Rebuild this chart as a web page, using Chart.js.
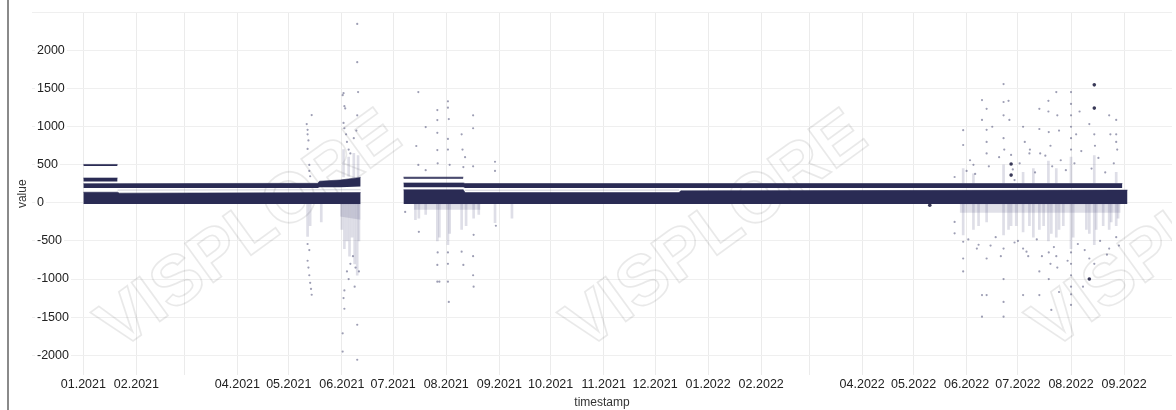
<!DOCTYPE html>
<html>
<head>
<meta charset="utf-8">
<script src="https://cdn.jsdelivr.net/npm/chart.js@4.4.0/dist/chart.umd.min.js"></script>
<style>
  html, body { margin: 0; padding: 0; background: #fff; }
  #wrap { position: relative; width: 1176px; height: 410px; }
</style>
</head>
<body>
<div id="wrap"><canvas id="valueChart"></canvas></div>
<script>
// x values are days counted from 01.01.2021
var monthStarts = [0, 31, 59, 90, 120, 151, 181, 212, 243, 273, 304, 334, 365, 396, 424, 455, 485, 516, 546, 577, 608];
var monthLabels = ['01.2021', '02.2021', '', '04.2021', '05.2021', '06.2021', '07.2021', '08.2021', '09.2021', '10.2021',
    '11.2021', '12.2021', '01.2022', '02.2022', '', '04.2022', '05.2022', '06.2022', '07.2022', '08.2022', '09.2022'];
var valueTicks = [-2000, -1500, -1000, -500, 0, 500, 1000, 1500, 2000, 2500];
var valueLabels = ['-2000', '-1500', '-1000', '-500', '0', '500', '1000', '1500', '2000', ''];

// dense band around zero (two recording periods)
var baseDays1 = [0, 20, 21, 162];
var baseLow1 = [-15, -15, -15, -15];
var baseHigh1 = [140, 140, 128, 135];
var baseDays2 = [187, 222, 223, 348, 349, 610];
var baseLow2 = [-15, -15, -15, -15, -15, -15];
var baseHigh2 = [172, 172, 135, 135, 158, 168];

// second level at ~200-250
var levelDays1 = [0, 137, 138, 150, 162];
var levelLow1 = [197, 197, 205, 205, 215];
var levelHigh1 = [252, 257, 285, 300, 335];
var levelDays2 = [187, 222, 223, 607];
var levelLow2 = [205, 205, 196, 196];
var levelHigh2 = [262, 262, 254, 254];

// short levels at the start of each period
var jan500Days = [0, 20];
var jan500Low = [483, 483];
var jan500High = [505, 505];
var jan300Days = [0, 20];
var jan300Low = [280, 280];
var jan300High = [327, 327];
var jul330Days = [187, 222];
var jul330Low = [318, 318];
var jul330High = [338, 338];

// sparse trace between the two levels
var traceDays1 = [20, 162];
var traceValues1 = [168, 172];
var traceDays2 = [223, 348];
var traceValues2 = [166, 168];

// light haze of values just under zero
var hazeDays1 = [150, 162];
var hazeLow1 = [-180, -220];
var hazeDays2 = [193, 232];
var hazeLow2 = [-90, -90];
var hazeDays3 = [512, 606];
var hazeLow3 = [-130, -130];

// vertical streaks of scattered values
var streakDays = [131, 132.5, 139, 151, 152.5, 154, 155.5, 157, 158.5, 160, 161,
    152, 155, 158, 160.5,
    194, 196, 200, 206.8, 208, 213, 214, 221, 223.6, 228, 231, 240.5, 250.4,
    514, 520, 523, 527.7, 537.6, 540.5, 542, 545, 549, 552.7, 555, 558.5, 561, 563.8, 565.5, 568.4, 570,
    572.5, 577, 578.3, 586, 587.7, 590.6, 591.7, 595.8, 599.3, 600.5, 603.4, 604.5,
    514, 520, 537.6, 549, 555, 563.8, 568.4, 577, 590.6, 603.4];
var streakLow = [-440, -300, -250, -350, -600, -500, -700, -450, -800, -950, -500,
    340, 350, 330, 340,
    -220, -200, -150, -500, -450, -550, -400, -350, -300, -200, -150, -260, -200,
    -420, -350, -300, -250, -420, -350, -300, -300, -380, -300, -450, -350, -300, -500, -400, -450, -350,
    -300, -600, -450, -350, -400, -550, -350, -300, -350, -250, -300, -200,
    255, 255, 255, 255, 255, 255, 255, 255, 255, 255];
var streakHigh = [-20, -20, -20, -20, -20, -20, -20, -20, -20, -20, -20,
    700, 600, 650, 620,
    -20, -20, -20, -20, -20, -20, -20, -20, -20, -20, -20, -20, -20,
    -20, -20, -20, -20, -20, -20, -20, -20, -20, -20, -20, -20, -20, -20, -20, -20, -20,
    -20, -20, -20, -20, -20, -20, -20, -20, -20, -20, -20, -20,
    450, 380, 500, 400, 450, 550, 450, 600, 620, 400];

// single outlying readings
var outlierDays = [130.5, 131, 131, 131.5, 131, 133.4, 132, 132, 132.5, 131, 131.5, 132, 132.5, 133, 133.4, 131, 132,
    151.5, 152, 152.5, 153, 152, 152.5, 153.5, 154, 155, 156, 152, 152.5, 152.5, 151.5, 151.5, 154, 155, 156, 157.5,
    160, 160, 160.5, 160, 159.5, 158, 160, 160, 161, 159, 158.5,
    188, 195.7, 194.5, 195.7, 196, 200, 206.8, 206.8, 206.8, 206.8, 207, 206.8, 206.8, 208, 207, 213, 213, 213.5, 213,
    213, 214, 213, 213, 213.5, 213, 221, 221.5, 223, 222, 221, 222, 227.7, 227.7, 227.7, 228, 227.7, 227.7, 228,
    240.5, 240.5, 241, 200,
    509, 509, 509, 514, 514, 514, 514, 514, 520, 523, 525, 525, 525, 525, 527.7, 527.7, 527.7, 527.7, 527.7, 527.7,
    531, 533, 537.6, 537.6, 537.6, 537.6, 538, 537.6, 537.6, 537.6, 537.6, 540.5, 541, 542, 544, 546,
    549, 550, 552.7, 549, 552, 549, 558.5, 558.5, 559, 560, 558.5, 558.5, 563.8, 563.8, 564, 565, 564, 565, 564, 565.5,
    568.4, 569, 570, 568.4, 569, 570, 577, 577, 577, 577, 577, 577, 577, 577, 577, 577, 577, 577, 580, 582, 584,
    587.7, 587.7, 590.6, 591, 590.6, 599.3, 600, 599.3, 603.4, 603.4, 603.4, 604, 603.4,
    516, 518, 521, 529, 535, 543, 547, 553, 556, 562, 566, 571, 574, 579, 583, 589, 593, 597, 602,
    517, 522, 530, 536, 544, 551, 557, 567, 575, 581, 585, 594, 598, 605];
var outlierValues = [1035, 960, 900, 820, 708, 1153, 498, 420, 350, -760, -850, -950, -1050, -1130, -1206, -540, -620,
    1415, 1440, 1270, 1240, 1050, 980, 900, 800, 700, 650, -1250, -1390, -1150, -1713, -1953, -900, -1000, -800, -700,
    2350, 1848, 1455, 1150, 950, 850, -1600, -2060, -900, -850, -1100,
    -118, 1455, 747, 498, -380, 996, 1219, 1088, 920, 694, 520, -815, -1035, -1035, -650, 1334, 1250, 1100, 840,
    700, 500, -800, -1035, -1300, -650, 900, 700, 600, 470, -640, -815, 1150, 980, 480, -420, -700, -950, -1100,
    540, 420, -300, 430,
    340, -250, -400, 955, 760, -510, -730, -900, 500, -550, 1350, 1090, -1210, -1494, 1235, 960, 800, 650, -730, -1210,
    1000, -450, 1560, 1325, 1150, 850, 700, -600, -1000, -1300, -1494, 1340, 1090, 630, 300, -500,
    1000, 800, 650, -600, -700, -1210, 1235, 970, 650, -700, -900, -1210, 1340, 1200, 930, 750, -650, -800, -1000, -1405,
    1455, 1150, 950, -700, -850, -1170, 1455, 1300, 1150, 1000, 850, 700, -650, -800, -950, -1100, -1200, -1340, 900, 1200, -1100,
    1035, -730, 900, 750, -800, 1150, 900, -600, 1090, 900, 800, 700, -450,
    420, 560, 380, 480, 600, 440, 520, 700, 400, 620, 480, 560, 430, 520, 680, 450, 590, 400, 520,
    -480, -600, -560, -700, -520, -640, -480, -580, -760, -540, -620, -500, -680, -560];

// heavier single readings
var strongDays = [494.5, 542, 542, 587.7, 590.6, 590.6];
var strongValues = [-30, 510, 365, -1000, 1550, 1245];

var navy = '#2a2b54';

function toPoints(days, values) {
    return days.map(function (d, i) { return { x: d, y: values[i] }; });
}

function bandDatasets(days, low, high, color) {
    return [{
        type: 'line',
        data: toPoints(days, low),
        borderWidth: 0,
        pointRadius: 0,
        fill: false,
        order: 5
    }, {
        type: 'line',
        data: toPoints(days, high),
        borderColor: color,
        borderWidth: 0.6,
        backgroundColor: color,
        pointRadius: 0,
        fill: '-1',
        order: 5
    }];
}

function zeroLine(days) {
    return days.map(function () { return -15; });
}

var datasets = [];
datasets.push({
    type: 'scatter',
    data: toPoints(strongDays, strongValues),
    backgroundColor: 'rgba(35,36,70,0.9)',
    borderWidth: 0,
    pointRadius: 1.8,
    order: 1
});
datasets.push({
    type: 'scatter',
    data: toPoints(outlierDays, outlierValues),
    backgroundColor: 'rgba(60,62,105,0.5)',
    borderWidth: 0,
    pointRadius: 1.1,
    order: 2
});
datasets.push({
    type: 'bar',
    data: streakDays.map(function (d, i) { return { x: d, y: [streakLow[i], streakHigh[i]] }; }),
    backgroundColor: 'rgba(70,72,120,0.18)',
    barThickness: 2,
    grouped: false,
    order: 3
});
[[traceDays1, traceValues1], [traceDays2, traceValues2]].forEach(function (t) {
    datasets.push({
        type: 'line',
        data: toPoints(t[0], t[1]),
        borderColor: 'rgba(42,43,84,0.22)',
        borderWidth: 1,
        pointRadius: 0,
        fill: false,
        order: 4
    });
});
[[hazeDays1, hazeLow1], [hazeDays2, hazeLow2], [hazeDays3, hazeLow3]].forEach(function (h) {
    bandDatasets(h[0], h[1], zeroLine(h[0]), 'rgba(70,72,120,0.17)').forEach(function (ds) {
        datasets.push(ds);
    });
});
[
    [baseDays1, baseLow1, baseHigh1],
    [baseDays2, baseLow2, baseHigh2],
    [levelDays1, levelLow1, levelHigh1],
    [levelDays2, levelLow2, levelHigh2],
    [jan500Days, jan500Low, jan500High],
    [jan300Days, jan300Low, jan300High],
    [jul330Days, jul330Low, jul330High]
].forEach(function (b) {
    bandDatasets(b[0], b[1], b[2], navy).forEach(function (ds) {
        datasets.push(ds);
    });
});

// grey rule at the left edge of the panel
var panelEdge = {
    id: 'panelEdge',
    beforeDraw: function (chart) {
        var ctx = chart.ctx;
        ctx.save();
        ctx.fillStyle = '#8a8a8a';
        ctx.fillRect(7, 0, 2, chart.height);
        ctx.restore();
    }
};

// outlined product mark behind the data
var watermark = {
    id: 'watermark',
    beforeDatasetsDraw: function (chart) {
        var ctx = chart.ctx;
        var area = chart.chartArea;
        ctx.save();
        ctx.beginPath();
        ctx.rect(area.left, area.top, area.right - area.left, area.bottom - area.top);
        ctx.clip();
        ctx.font = 'bold 70px "Liberation Sans", Arial, sans-serif';
        ctx.textAlign = 'center';
        ctx.textBaseline = 'middle';
        ctx.strokeStyle = 'rgba(0,0,0,0.085)';
        ctx.lineWidth = 1.8;
        [250, 716, 1182].forEach(function (cx) {
            ctx.save();
            ctx.translate(cx, 232);
            ctx.rotate(-36 * Math.PI / 180);
            ctx.strokeText('VISPLORE', 0, 0);
            ctx.restore();
        });
        ctx.restore();
    }
};

var ctx = document.getElementById('valueChart').getContext('2d');
var valueChart = new Chart(ctx, {
    type: 'scatter',
    data: { datasets: datasets },
    plugins: [panelEdge, watermark],
    options: {
        responsive: true,
        maintainAspectRatio: false,
        animation: false,
        layout: { padding: { left: 10, top: 10, right: 0, bottom: 0 } },
        plugins: {
            legend: { display: false },
            tooltip: { enabled: false }
        },
        scales: {
            x: {
                type: 'linear',
                min: -30,
                max: 636,
                offset: false,
                afterFit: function (scale) { scale.height = 35; },
                afterBuildTicks: function (scale) {
                    scale.ticks = monthStarts.map(function (v) { return { value: v }; });
                },
                grid: { color: '#ebebeb', drawTicks: false, offset: false },
                border: { display: false },
                ticks: {
                    autoSkip: false,
                    maxRotation: 0,
                    padding: 2,
                    color: '#222',
                    font: { family: '"Liberation Sans", Arial, sans-serif', size: 12.5 },
                    callback: function (value, index) { return monthLabels[index]; }
                },
                title: {
                    display: true,
                    text: 'timestamp',
                    color: '#333',
                    padding: { top: 0, bottom: 0 },
                    font: { family: '"Liberation Sans", Arial, sans-serif', size: 12 }
                }
            },
            y: {
                min: -2260,
                max: 2500,
                afterFit: function (scale) { scale.width = 22; },
                afterBuildTicks: function (scale) {
                    scale.ticks = valueTicks.map(function (v) { return { value: v }; });
                },
                grid: { color: '#efefef', drawTicks: false },
                border: { display: false },
                ticks: {
                    autoSkip: false,
                    mirror: true,
                    padding: 5,
                    color: '#222',
                    showLabelBackdrop: true,
                    backdropPadding: 2,
                    backdropColor: function (c) { return c.index === valueTicks.length - 1 ? 'rgba(0,0,0,0)' : '#fff'; },
                    font: { family: '"Liberation Sans", Arial, sans-serif', size: 12.5 },
                    callback: function (value, index) { return valueLabels[index]; }
                },
                title: {
                    display: true,
                    text: 'value',
                    color: '#333',
                    padding: { top: 5, bottom: 0 },
                    font: { family: '"Liberation Sans", Arial, sans-serif', size: 12 }
                }
            }
        }
    }
});
</script>
</body>
</html>
